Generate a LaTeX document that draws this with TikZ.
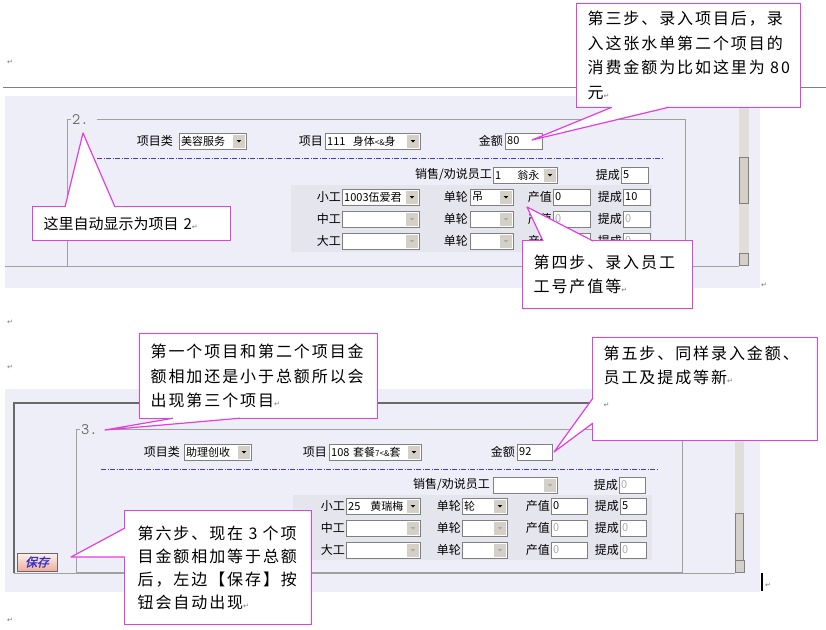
\documentclass[tikz,border=0pt]{standalone}
\usepackage{fontspec}
\usepackage{tikz}
\usetikzlibrary{positioning,calc}
\newfontfamily\cjk{Noto Sans CJK SC}
\newfontfamily\calfont[LetterSpace=12]{Noto Sans CJK SC}
\newfontfamily\savefont[FakeSlant=0.25,FakeBold=1.5]{Noto Sans CJK SC}
\newfontfamily\dejavu{DejaVu Sans}
\definecolor{panelbg}{RGB}{238,238,248}
\definecolor{rowbg}{RGB}{229,229,238}
\definecolor{framecol}{RGB}{160,160,160}
\definecolor{darkcol}{RGB}{105,105,105}
\definecolor{sepblue}{RGB}{60,60,220}
\definecolor{callmag}{RGB}{224,64,224}
\definecolor{trackcol}{RGB}{224,222,216}
\definecolor{btncol}{RGB}{212,208,200}
\definecolor{fieldcol}{RGB}{128,128,128}
\definecolor{offcol}{RGB}{170,170,170}
\definecolor{retcol}{RGB}{120,120,120}
\definecolor{savetext}{RGB}{50,50,200}
\newcommand\retmark{{\dejavu\fontsize{7}{7}\selectfont\color{retcol}↵}}

\begin{document}
\begin{tikzpicture}[
    x=1pt, y=-1pt,
    lbl/.style={font=\cjk\fontsize{12}{14}\selectfont, inner sep=0pt},
    field/.style={draw=fieldcol, fill=white, anchor=west, minimum height=16pt, inner xsep=2pt, inner ysep=0pt, align=left, font=\cjk\fontsize{11}{13}\selectfont},
    offfield/.style={field, text=offcol},
    combo/.style={field, path picture={
        \fill[btncol] ([xshift=-13pt,yshift=-1.5pt]path picture bounding box.north east) rectangle ([xshift=-1.5pt,yshift=1.5pt]path picture bounding box.south east);
        \fill[#1] ([xshift=-9.5pt,yshift=1pt]path picture bounding box.east) -- ++(4.5pt,0pt) -- ++(-2.25pt,-2.5pt) -- cycle;}},
    combo/.default=black,
    legend/.style={font=\ttfamily\fontsize{16}{16}\selectfont, text=darkcol, inner sep=1pt, anchor=west},
    boxline/.style={draw=framecol, line width=0.8pt},
    dashsep/.style={draw=sepblue, line width=0.8pt, dash pattern=on 5pt off 1.5pt on 1pt off 1.5pt},
    ret/.style={inner sep=0pt, font=\dejavu\fontsize{7}{7}\selectfont, text=retcol},
    track/.style={fill=trackcol},
    thumb/.style={draw=fieldcol, fill=btncol, line width=0.6pt},
    sbbtn/.style={draw=fieldcol, fill=btncol, minimum width=9pt, minimum height=12pt, inner sep=0pt, path picture={
        \fill ([xshift=-2pt,yshift=1pt]path picture bounding box.center) -- ++(4pt,0pt) -- ++(-2pt,-2.5pt) -- cycle;}},
    callbox/.style={draw=callmag, line width=1.2pt, fill=white, anchor=north west, inner xsep=11pt, inner ysep=0pt, align=left, font=\calfont\fontsize{16}{24.5}\selectfont},
    pointer/.style={draw=callmag, line width=1.2pt, fill=white, line join=round},
    savebtn/.style={draw=darkcol, line width=0.6pt, top color={rgb,255:red,253;green,242;blue,236}, bottom color={rgb,255:red,238;green,172;blue,158}, minimum width=40pt, minimum height=18pt, inner sep=0pt, font=\savefont\fontsize{12}{12}\selectfont, text=savetext}
]
\useasboundingbox (0,0) rectangle (826,629);

% ================== Part 2 ==================
\node[ret] (r1) at (10,62) {↵};
\draw[draw=fieldcol, line width=0.8pt] (3,87) -- (826,87);
\fill[panelbg] (5,96) rectangle (760,288);
\fill[rowbg] (291,185) rectangle (652,252);
\node[ret] (r2) at (764,285) {↵};

% scroll bar
\fill[track] (739,96) rectangle (749,266);
\draw[thumb] (739.5,157) rectangle (748.5,203);
\node[sbbtn] (sb2) at (744,259.5) {};

% frame of item 2
\draw[boxline] (5,266) -- (739,266);
\draw[boxline] (71,119) -- (67,119) -- (67,266);
\draw[boxline] (97,119) -- (685,119) -- (685,266);
\node[legend] (leg2) at (71,120) {2.};
\draw[dashsep] (97,158) -- (662,158);

% Row 1: item class, item, amount
\node[combo, text width=63pt] (cat2) at (179,141) {美容服务};
\node[lbl, left=6pt of cat2] (cat2l) {项目类};
\node[combo, text width=91pt] (item2) at (325,141) {111\ \ 身体{\fontsize{8}{8}\selectfont<\&}身};
\node[lbl, left=2pt of item2] (item2l) {项目};
\node[field, text width=33pt] (amt2) at (505,141) {80};
\node[lbl, left=2pt of amt2] (amt2l) {金额};

% Row 2: sales staff
\node[combo, text width=60pt] (sale2) at (493,175) {1\hspace{16pt}翁永};
\node[lbl, left=1pt of sale2] (sale2l) {销售/劝说员工};
\node[field, text width=23pt] (sc2) at (621,175) {5};
\node[lbl, left=1pt of sc2] (sc2l) {提成};

% Row 3-5: workers
\node[combo, text width=73pt] (xg2) at (342,197) {1003伍爱君};
\node[lbl, left=1pt of xg2] (xg2l) {小工};
\node[combo, text width=39pt] (dl2a) at (470,197) {吊};
\node[lbl, left=2pt of dl2a] (dl2al) {单轮};
\node[field, text width=33pt] (cz2a) at (553,197) {0};
\node[lbl, left=1pt of cz2a] (cz2al) {产值};
\node[field, text width=23pt] (tc2a) at (623,197) {10};
\node[lbl, left=1pt of tc2a] (tc2al) {提成};

\node[combo=offcol, text width=73pt] (zg2) at (342,219) {};
\node[lbl, left=1pt of zg2] (zg2l) {中工};
\node[combo=offcol, text width=39pt] (dl2b) at (470,219) {};
\node[lbl, left=2pt of dl2b] (dl2bl) {单轮};
\node[offfield, text width=33pt] (cz2b) at (553,219) {0};
\node[lbl, left=1pt of cz2b] (cz2bl) {产值};
\node[offfield, text width=23pt] (tc2b) at (623,219) {0};
\node[lbl, left=1pt of tc2b] (tc2bl) {提成};

\node[combo=offcol, text width=73pt] (dg2) at (342,241) {};
\node[lbl, left=1pt of dg2] (dg2l) {大工};
\node[combo=offcol, text width=39pt] (dl2c) at (470,241) {};
\node[lbl, left=2pt of dl2c] (dl2cl) {单轮};
\node[offfield, text width=33pt] (cz2c) at (553,241) {0};
\node[lbl, left=1pt of cz2c] (cz2cl) {产值};
\node[offfield, text width=23pt] (tc2c) at (623,241) {0};
\node[lbl, left=1pt of tc2c] (tc2cl) {提成};

% ================== Part 3 ==================
\node[ret] (r3) at (10,322) {↵};
\node[ret] (r4) at (10,367) {↵};
\node[ret] (r5) at (10,620) {↵};
\fill[panelbg] (5,389) rectangle (760,592);
\fill[rowbg] (293,495) rectangle (652,560);

% scroll bar
\fill[track] (735,403) rectangle (744,573);
\draw[thumb] (735.5,513) rectangle (743.5,560);
\node[sbbtn] (sb3) at (739.5,566.5) {};

% outer frame and frame of item 3
\draw[draw=darkcol, line width=2pt] (735,403) -- (14,403) -- (14,573);
\draw[boxline] (14,573) -- (735,573);
\draw[boxline] (80,429) -- (76,429) -- (76,572) -- (682,572) -- (682,429) -- (105,429);
\node[legend] (leg3) at (80,430) {3.};
\draw[dashsep] (101,469) -- (658,469);
\draw[line width=1.3pt] (762,573) -- (762,591);
\node[ret] (r6) at (768,585) {↵};

% Row 1: item class, item, amount
\node[combo, text width=63pt] (cat3) at (184,452) {助理创收};
\node[lbl, left=4pt of cat3] (cat3l) {项目类};
\node[combo, text width=88pt] (item3) at (329,452) {108\ 套餐{\fontsize{8}{8}\selectfont 7<\&}套};
\node[lbl, left=2pt of item3] (item3l) {项目};
\node[field, text width=31pt] (amt3) at (517,452) {92};
\node[lbl, left=2pt of amt3] (amt3l) {金额};

% Row 2: sales staff
\node[combo=offcol, text width=60pt] (sale3) at (493,485) {};
\node[lbl, left=3pt of sale3] (sale3l) {销售/劝说员工};
\node[offfield, text width=22pt] (sc3) at (619,485) {0};
\node[lbl, left=1pt of sc3] (sc3l) {提成};

% Row 3-5: workers
\node[combo, text width=70pt] (xg3) at (346,506) {25\hspace{10pt}黄瑞梅};
\node[lbl, left=1pt of xg3] (xg3l) {小工};
\node[combo, text width=41pt] (dl3a) at (462,506) {轮};
\node[lbl, left=1pt of dl3a] (dl3al) {单轮};
\node[field, text width=32pt] (cz3a) at (551,506) {0};
\node[lbl, left=1pt of cz3a] (cz3al) {产值};
\node[field, text width=22pt] (tc3a) at (620,506) {5};
\node[lbl, left=1pt of tc3a] (tc3al) {提成};

\node[combo=offcol, text width=70pt] (zg3) at (346,528) {};
\node[lbl, left=1pt of zg3] (zg3l) {中工};
\node[combo=offcol, text width=41pt] (dl3b) at (462,528) {};
\node[lbl, left=1pt of dl3b] (dl3bl) {单轮};
\node[offfield, text width=32pt] (cz3b) at (551,528) {0};
\node[lbl, left=1pt of cz3b] (cz3bl) {产值};
\node[offfield, text width=22pt] (tc3b) at (620,528) {0};
\node[lbl, left=1pt of tc3b] (tc3bl) {提成};

\node[combo=offcol, text width=70pt] (dg3) at (346,550) {};
\node[lbl, left=1pt of dg3] (dg3l) {大工};
\node[combo=offcol, text width=41pt] (dl3c) at (462,550) {};
\node[lbl, left=1pt of dl3c] (dl3cl) {单轮};
\node[offfield, text width=32pt] (cz3c) at (551,550) {0};
\node[lbl, left=1pt of cz3c] (cz3cl) {产值};
\node[offfield, text width=22pt] (tc3c) at (620,550) {0};
\node[lbl, left=1pt of tc3c] (tc3cl) {提成};

\node[savebtn] (save) at (37,562) {保存};

% ------------------ Callouts ------------------
\coordinate (c3tip) at (532,140);
\coordinate (c2tip) at (83,133);
\coordinate (c4tip) at (527,207);
\coordinate (c1tip) at (105,430);
\coordinate (c5tip) at (554,452);
\coordinate (c6tip) at (71,557);

\node[callbox, minimum width=224pt, minimum height=104pt, text width=202pt] (c3) at (576,3)
    {第三步、录入项目后，录\\入这张水单第二个项目的\\消费金额为比如这里为~80\\元\retmark};
\filldraw[pointer] ([xshift=36pt,yshift=1pt]c3.south west) -- (c3tip) -- ([xshift=93pt,yshift=1pt]c3.south west);

\node[callbox, minimum width=198pt, minimum height=34pt, text width=176pt, font=\cjk\fontsize{15}{18}\selectfont] (c2) at (32,206)
    {这里自动显示为项目~2\retmark};
\filldraw[pointer] ([xshift=33pt,yshift=-1pt]c2.north west) -- (c2tip) -- ([xshift=83pt,yshift=-1pt]c2.north west);

\node[callbox, minimum width=170pt, minimum height=68pt, text width=148pt] (c4) at (522,240)
    {第四步、录入员工\\工号产值等\retmark};
\filldraw[pointer] ([xshift=21pt,yshift=-1pt]c4.north west) -- (c4tip) -- ([xshift=71pt,yshift=-1pt]c4.north west);

\node[callbox, minimum width=238pt, minimum height=85pt, text width=216pt] (c1) at (139,333)
    {第一个项目和第二个项目金\\额相加还是小于总额所以会\\出现第三个项目\retmark};
\filldraw[pointer] ([xshift=34pt,yshift=1pt]c1.south west) -- (c1tip) -- ([xshift=101pt,yshift=1pt]c1.south west);

\node[callbox, minimum width=225pt, minimum height=103pt, text width=203pt, font=\calfont\fontsize{16}{24}\selectfont] (c5) at (592,337)
    {第五步、同样录入金额、\\员工及提成等新\retmark\\\retmark\\\mbox{}};
\filldraw[pointer] ([xshift=1pt,yshift=-61pt]c5.north west) -- (c5tip) -- ([xshift=1pt,yshift=-86pt]c5.north west);

\node[callbox, minimum width=187pt, minimum height=114pt, text width=161pt, inner xsep=13pt, font=\calfont\fontsize{16}{23}\selectfont] (c6) at (124,510)
    {第六步、现在~3~个项\\目金额相加等于总额\\后，左边【保存】按\\钮会自动出现\retmark};
\filldraw[pointer] ([xshift=1pt,yshift=-18pt]c6.north west) -- (c6tip) -- ([xshift=1pt,yshift=-47pt]c6.north west);

\end{tikzpicture}
\end{document}
